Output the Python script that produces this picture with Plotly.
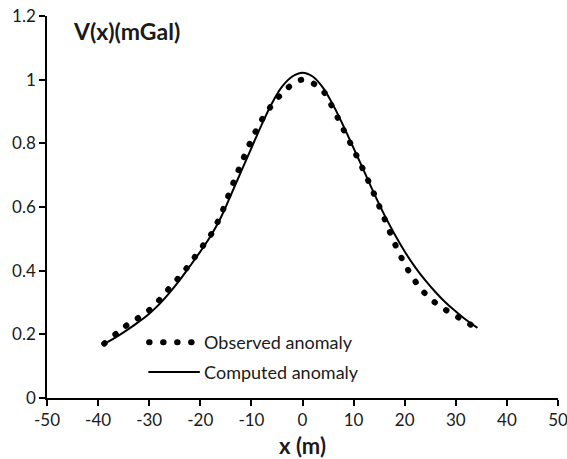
import plotly.graph_objects as go

# Observed anomaly
x_obs = [-38.8, -36, -34, -32, -30, -28, -26, -24, -22, -20, -18, -16, -14, -12, -10, -8, -6, -4, -2, 0,
         2, 4, 6, 8, 10, 12, 14, 16, 18, 20, 22, 24, 26, 28, 30, 32, 34.0]
v_obs = [0.171, 0.208, 0.233, 0.253, 0.276, 0.308, 0.346, 0.382, 0.422, 0.467, 0.511, 0.574, 0.657, 0.736,
         0.810, 0.873, 0.920, 0.957, 0.985, 1.000, 0.989, 0.965, 0.909, 0.844, 0.780, 0.713, 0.641, 0.565,
         0.487, 0.421, 0.368, 0.328, 0.299, 0.277, 0.258, 0.239, 0.220]

# Computed anomaly
x_cal = [-38.8, -36, -34, -32, -30, -28, -26, -24, -22, -20, -18, -16, -14, -12, -10, -8, -6, -4, -2, 0,
         2, 4, 6, 8, 10, 12, 14, 16, 18, 20, 22, 24, 26, 28, 30, 32, 34.1]
v_cal = [0.170, 0.196, 0.217, 0.240, 0.265, 0.295, 0.331, 0.371, 0.415, 0.460, 0.508, 0.566, 0.638, 0.712,
         0.785, 0.858, 0.925, 0.978, 1.010, 1.022, 1.010, 0.975, 0.920, 0.855, 0.785, 0.714, 0.643, 0.576,
         0.515, 0.460, 0.412, 0.370, 0.333, 0.300, 0.272, 0.246, 0.222]

x_ticks = [-50, -40, -30, -20, -10, 0, 10, 20, 30, 40, 50]
x_tick_labels = ["-50", "-40", "-30", "-20", "-10", "0", "10", "20", "30", "40", "50"]
y_ticks = [0, 0.2, 0.4, 0.6, 0.8, 1, 1.2]
y_tick_labels = ["0", "0.2", "0.4", "0.6", "0.8", "1", "1.2"]

FONT = "Lato"
TXT = "#1a1a1a"

fig = go.Figure()
fig.add_trace(go.Scatter(
    x=x_cal, y=v_cal, mode="lines", name="Computed anomaly",
    line=dict(color="black", width=2, shape="spline"),
    legend="legend2",
))
fig.add_trace(go.Scatter(
    x=x_obs, y=v_obs, mode="lines", name="Observed anomaly",
    line=dict(color="black", width=6, dash="0.5px,13.5px", shape="spline"),
    legend="legend",
))

fig.update_layout(
    width=567, height=459,
    margin=dict(l=47, r=9, t=16, b=61),
    paper_bgcolor="white", plot_bgcolor="white",
    font=dict(family=FONT, size=17, color=TXT),
    showlegend=True,
    legend=dict(x=0.19, y=0.145, xanchor="left", yanchor="middle",
                bgcolor="rgba(0,0,0,0)", itemwidth=50, font=dict(size=18)),
    legend2=dict(x=0.19, y=0.067, xanchor="left", yanchor="middle",
                 bgcolor="rgba(0,0,0,0)", itemwidth=50, font=dict(size=18)),
    xaxis=dict(range=[-50, 50], tickvals=x_ticks, ticktext=x_tick_labels,
               showline=True, linecolor="black", linewidth=1.5,
               ticks="outside", ticklen=6, tickwidth=1.5, tickcolor="black",
               showgrid=False, zeroline=False, ticklabeloverflow="allow",
               automargin=False,
               title=dict(text="<b>x (m)</b>", font=dict(size=22), standoff=10)),
    yaxis=dict(range=[0, 1.2], tickvals=y_ticks, ticktext=y_tick_labels,
               showline=True, linecolor="black", linewidth=1.5,
               ticks="outside", ticklen=6, tickwidth=1.5, tickcolor="black",
               showgrid=False, zeroline=False, ticklabeloverflow="allow",
               automargin=False),
    annotations=[dict(text="<b>V(x)(mGal)</b>", xref="paper", yref="paper",
                      x=0.047, y=0.962, xanchor="left", yanchor="middle",
                      showarrow=False, font=dict(size=23))],
)

css = "body{margin:0;overflow:hidden;} .js-line{stroke-linecap:round !important;}"
post = ("var s=document.createElement('style');s.innerHTML='" + css + "';"
        "document.head.appendChild(s);")

fig.write_html("out.html", post_script=post, config={"displayModeBar": False})
